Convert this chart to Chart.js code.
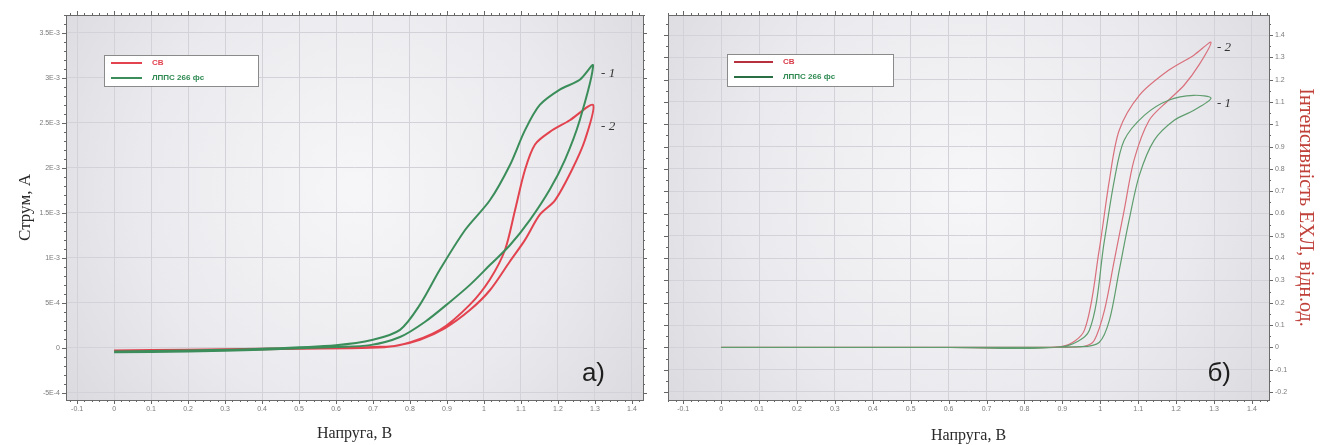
<!DOCTYPE html>
<html>
<head>
<meta charset="utf-8">
<script src="https://cdn.jsdelivr.net/npm/chart.js@4.4.1/dist/chart.umd.min.js"></script>
<style>
  html, body { margin: 0; padding: 0; background: #fff; width: 1322px; height: 445px; overflow: hidden; }
  .panel { position: absolute; top: 0; height: 445px; }
  #panelA { left: 0; width: 655px; }
  #panelB { left: 655px; width: 667px; }
</style>
</head>
<body>
<div class="panel" id="panelA"><canvas id="chartA"></canvas></div>
<div class="panel" id="panelB"><canvas id="chartB"></canvas></div>
<script>
// ---- series names ----
const seriesNames = ['СВ', 'ЛППС 266 фс'];

// ---- axis ticks ----
const voltageTicks = [-0.1, 0, 0.1, 0.2, 0.3, 0.4, 0.5, 0.6, 0.7, 0.8, 0.9, 1, 1.1, 1.2, 1.3, 1.4];
const voltageTickLabels = ['-0.1', '0', '0.1', '0.2', '0.3', '0.4', '0.5', '0.6', '0.7', '0.8', '0.9', '1', '1.1', '1.2', '1.3', '1.4'];
const currentTicks = [-0.0005, 0, 0.0005, 0.001, 0.0015, 0.002, 0.0025, 0.003, 0.0035];
const currentTickLabels = ['-5E-4', '0', '5E-4', '1E-3', '1.5E-3', '2E-3', '2.5E-3', '3E-3', '3.5E-3'];
const eclTicks = [-0.2, -0.1, 0, 0.1, 0.2, 0.3, 0.4, 0.5, 0.6, 0.7, 0.8, 0.9, 1, 1.1, 1.2, 1.3, 1.4];
const eclTickLabels = ['-0.2', '-0.1', '0', '0.1', '0.2', '0.3', '0.4', '0.5', '0.6', '0.7', '0.8', '0.9', '1', '1.1', '1.2', '1.3', '1.4'];

// ---- panel a: current vs voltage (A) ----
const svVoltage = [0, 0.2, 0.4, 0.6, 0.7, 0.773, 0.881, 0.962, 1.016, 1.057, 1.084, 1.111, 1.138, 1.178, 1.232, 1.295,
                   1.273, 1.238, 1.192, 1.151, 1.111, 1.07, 1.016, 0.962, 0.895, 0.827, 0.759, 0.692, 0.5, 0.3, 0.1, 0];
const svCurrent = [-0.03e-3, -0.02e-3, -0.01e-3, 0, 0.01e-3, 0.03e-3, 0.2e-3, 0.48e-3, 0.76e-3, 1.09e-3, 1.53e-3, 1.98e-3, 2.26e-3, 2.4e-3, 2.53e-3, 2.7e-3,
                   2.31e-3, 1.98e-3, 1.64e-3, 1.48e-3, 1.2e-3, 0.96e-3, 0.64e-3, 0.42e-3, 0.22e-3, 0.09e-3, 0.02e-3, 0, -0.01e-3, -0.02e-3, -0.03e-3, -0.03e-3];
const lppsVoltage = [0, 0.2, 0.4, 0.6, 0.7, 0.773, 0.827, 0.881, 0.949, 1.016, 1.07, 1.111, 1.151, 1.205, 1.259, 1.295,
                     1.259, 1.219, 1.178, 1.124, 1.07, 1.016, 0.962, 0.908, 0.841, 0.773, 0.692, 0.6, 0.4, 0.2, 0];
const lppsCurrent = [-0.04e-3, -0.03e-3, -0.01e-3, 0.03e-3, 0.09e-3, 0.2e-3, 0.48e-3, 0.87e-3, 1.31e-3, 1.64e-3, 2.03e-3, 2.42e-3, 2.7e-3, 2.87e-3, 2.98e-3, 3.14e-3,
                     2.53e-3, 2.09e-3, 1.76e-3, 1.42e-3, 1.14e-3, 0.92e-3, 0.7e-3, 0.51e-3, 0.29e-3, 0.12e-3, 0.03e-3, 0.01e-3, -0.02e-3, -0.04e-3, -0.05e-3];

// ---- panel b: ECL intensity vs voltage (rel. units) ----
const svEclVoltage = [0, 0.3, 0.6, 0.9, 0.958, 0.997, 1.024, 1.05, 1.103, 1.18, 1.247, 1.292,
                      1.26, 1.221, 1.18, 1.129, 1.089, 1.063, 1.037, 1.011, 0.984, 0.958, 0.9, 0.6, 0.3, 0];
const svEcl = [0, 0, 0, 0.005, 0.076, 0.435, 0.749, 0.973, 1.13, 1.242, 1.31, 1.368,
               1.265, 1.175, 1.108, 1.018, 0.839, 0.614, 0.39, 0.166, 0.031, 0.005, 0, 0, 0, 0];
const lppsEclVoltage = [0, 0.3, 0.6, 0.9, 0.971, 1.011, 1.037, 1.063, 1.116, 1.18, 1.247, 1.292,
                        1.247, 1.195, 1.142, 1.103, 1.076, 1.05, 1.024, 0.997, 0.95, 0.6, 0.3, 0];
const lppsEcl = [0, 0, 0, 0.003, 0.076, 0.48, 0.749, 0.928, 1.04, 1.108, 1.13, 1.117,
                 1.063, 1.018, 0.928, 0.771, 0.57, 0.345, 0.121, 0.022, 0.003, 0, 0, 0];

const toPoints = (xs, ys) => xs.map((x, i) => ({ x: x, y: ys[i] }));

// Plot background, frame with tick marks, legend box, curve tags and panel letter
const panelDecor = {
  id: 'panelDecor',
  beforeDraw(chart, args, o) {
    const { ctx, chartArea: a } = chart;
    ctx.save();
    const cx = a.left + a.width * 0.5, cy = a.top + a.height * 0.45;
    const g = ctx.createRadialGradient(cx, cy, 10, cx, cy, Math.max(a.width, a.height) * 0.62);
    g.addColorStop(0, '#f6f6f8');
    g.addColorStop(0.6, '#eaeaee');
    g.addColorStop(1, '#dadadf');
    ctx.fillStyle = g;
    ctx.fillRect(a.left, a.top, a.width, a.height);
    ctx.restore();
  },
  afterDraw(chart, args, o) {
    const { ctx, chartArea: a, scales } = chart;
    const xs = scales.x, ys = scales[o.yScale];
    ctx.save();
    // tick marks on all four sides
    ctx.strokeStyle = '#666';
    ctx.lineWidth = 1;
    const marks = (scale, step, len, horizontal) => {
      const n0 = Math.ceil(scale.min / step - 1e-6), n1 = Math.floor(scale.max / step + 1e-6);
      for (let n = n0; n <= n1; n++) {
        const p = Math.round(scale.getPixelForValue(n * step)) + 0.5;
        ctx.beginPath();
        if (horizontal) {
          ctx.moveTo(p, a.bottom); ctx.lineTo(p, a.bottom + len);
          ctx.moveTo(p, a.top); ctx.lineTo(p, a.top - len);
        } else {
          ctx.moveTo(a.left, p); ctx.lineTo(a.left - len, p);
          ctx.moveTo(a.right, p); ctx.lineTo(a.right + len, p);
        }
        ctx.stroke();
      }
    };
    marks(xs, o.xMinor, 2, true);
    marks(xs, o.xMajor, 4, true);
    marks(ys, o.yMinor, 2, false);
    marks(ys, o.yMajor, 4, false);
    // frame
    ctx.strokeStyle = '#6a6a6a';
    ctx.strokeRect(Math.round(a.left) + 0.5, Math.round(a.top) + 0.5, Math.round(a.width), Math.round(a.height));

    // legend box
    const L = o.legend;
    ctx.fillStyle = '#ffffff';
    ctx.fillRect(L.x, L.y, L.w, L.h);
    ctx.strokeStyle = '#8a8a8a';
    ctx.strokeRect(L.x + 0.5, L.y + 0.5, L.w, L.h);
    ctx.font = 'bold 8px "Liberation Sans", Arial, sans-serif';
    ctx.textBaseline = 'middle';
    ctx.textAlign = 'left';
    o.legendOrder.forEach((di, k) => {
      const ds = chart.data.datasets[di];
      const yy = L.y + 8 + k * 15;
      ctx.strokeStyle = o.legendLine[k];
      ctx.lineWidth = 2;
      ctx.beginPath();
      ctx.moveTo(L.x + 7, yy); ctx.lineTo(L.x + L.lineLen, yy);
      ctx.stroke();
      ctx.fillStyle = o.legendText[k];
      ctx.fillText(ds.label, L.x + L.lineLen + 10, yy);
    });

    // curve tags at the end of each sweep
    ctx.fillStyle = '#333';
    ctx.font = 'italic 13px "Liberation Serif", "Times New Roman", serif';
    o.tags.forEach(t => {
      const ds = chart.data.datasets[t.dataset];
      let far = ds.data[0];
      ds.data.forEach(p => { if (p.x > far.x) far = p; });
      const px = xs.getPixelForValue(far.x), py = ys.getPixelForValue(far.y);
      ctx.fillText(t.text, px + t.dx, py + t.dy);
    });

    // panel letter
    ctx.font = '26px "Liberation Sans", Arial, sans-serif';
    ctx.fillStyle = '#1e1e1e';
    ctx.textAlign = 'right';
    ctx.textBaseline = 'alphabetic';
    ctx.fillText(o.letter, a.right - 38, a.bottom - 19);
    ctx.restore();
  }
};

const tickFont = { family: '"Liberation Sans", Arial, sans-serif', size: 7 };
const gridStyle = { color: '#d2d2d8', lineWidth: 1, drawTicks: false };

function voltageAxis(min, max, titlePad) {
  return {
    type: 'linear',
    min: min, max: max,
    afterBuildTicks: s => { s.ticks = voltageTicks.map(v => ({ value: v })); },
    afterFit: s => { s.height = 45; },
    ticks: {
      autoSkip: false, maxRotation: 0, padding: 5, font: tickFont, color: '#7a7a7a',
      callback: (v, i) => voltageTickLabels[i]
    },
    grid: gridStyle,
    border: { display: false },
    title: {
      display: true, text: 'Напруга, В', color: '#2a2a2a',
      font: { family: '"Liberation Serif", "Times New Roman", serif', size: 16 },
      padding: { top: 0, bottom: titlePad }
    }
  };
}

new Chart(document.getElementById('chartA'), {
  type: 'scatter',
  data: {
    datasets: [
      { label: seriesNames[1], data: toPoints(lppsVoltage, lppsCurrent), showLine: true, borderColor: '#3b8d5a', borderWidth: 2, pointRadius: 0, tension: 0.3 },
      { label: seriesNames[0], data: toPoints(svVoltage, svCurrent), showLine: true, borderColor: '#e2434f', borderWidth: 2, pointRadius: 0, tension: 0.3 }
    ]
  },
  options: {
    responsive: true, maintainAspectRatio: false, animation: false,
    layout: { padding: { left: 0, top: 15, right: 12, bottom: 0 } },
    plugins: {
      legend: { display: false }, tooltip: { enabled: false },
      panelDecor: {
        yScale: 'y', xMajor: 0.1, xMinor: 0.02, yMajor: 0.0005, yMinor: 0.0001,
        legend: { x: 104, y: 55, w: 154, h: 31, lineLen: 38 },
        legendOrder: [1, 0], legendLine: ['#e2434f', '#3b8d5a'], legendText: ['#e2434f', '#2f8a52'],
        tags: [{ dataset: 0, text: '- 1', dx: 8, dy: 8 }, { dataset: 1, text: '- 2', dx: 8, dy: 22 }],
        letter: 'а)'
      }
    },
    scales: {
      x: voltageAxis(-0.13, 1.43, 2),
      y: {
        type: 'linear', position: 'left',
        min: -0.00058, max: 0.0037,
        afterBuildTicks: s => { s.ticks = currentTicks.map(v => ({ value: v })); },
        afterFit: s => { s.width = 66; },
        ticks: { autoSkip: false, padding: 6, font: tickFont, color: '#7a7a7a', callback: (v, i) => currentTickLabels[i] },
        grid: gridStyle,
        border: { display: false },
        title: {
          display: true, text: 'Струм, А', color: '#2a2a2a',
          font: { family: '"Liberation Serif", "Times New Roman", serif', size: 17 },
          padding: { top: 15, bottom: 0 }
        }
      }
    }
  },
  plugins: [panelDecor]
});

new Chart(document.getElementById('chartB'), {
  type: 'scatter',
  data: {
    datasets: [
      { label: seriesNames[1], data: toPoints(lppsEclVoltage, lppsEcl), showLine: true, borderColor: '#5f9d6e', borderWidth: 1.2, pointRadius: 0, tension: 0.3 },
      { label: seriesNames[0], data: toPoints(svEclVoltage, svEcl), showLine: true, borderColor: '#d9707c', borderWidth: 1.2, pointRadius: 0, tension: 0.3 }
    ]
  },
  options: {
    responsive: true, maintainAspectRatio: false, animation: false,
    layout: { padding: { left: 13, top: 15, right: 0, bottom: 0 } },
    plugins: {
      legend: { display: false }, tooltip: { enabled: false },
      panelDecor: {
        yScale: 'y', xMajor: 0.1, xMinor: 0.02, yMajor: 0.1, yMinor: 0.05,
        legend: { x: 72, y: 54, w: 166, h: 32, lineLen: 46 },
        legendOrder: [1, 0], legendLine: ['#b8303e', '#2a6e44'], legendText: ['#d83a48', '#2f8a52'],
        tags: [{ dataset: 1, text: '- 2', dx: 6, dy: 5 }, { dataset: 0, text: '- 1', dx: 6, dy: 5 }],
        letter: 'б)'
      }
    },
    scales: {
      x: voltageAxis(-0.14, 1.445, 0),
      y: {
        type: 'linear', position: 'right',
        min: -0.236, max: 1.49,
        afterBuildTicks: s => { s.ticks = eclTicks.map(v => ({ value: v })); },
        afterFit: s => { s.width = 53; },
        ticks: { autoSkip: false, padding: 6, font: tickFont, color: '#7a7a7a', callback: (v, i) => eclTickLabels[i] },
        grid: gridStyle,
        border: { display: false },
        title: {
          display: true, text: 'Інтенсивність ЕХЛ, відн.од.', color: '#c0403a',
          font: { family: '"Liberation Serif", "Times New Roman", serif', size: 20 },
          padding: { top: 5, bottom: 0 }
        }
      }
    }
  },
  plugins: [panelDecor]
});
</script>
</body>
</html>
